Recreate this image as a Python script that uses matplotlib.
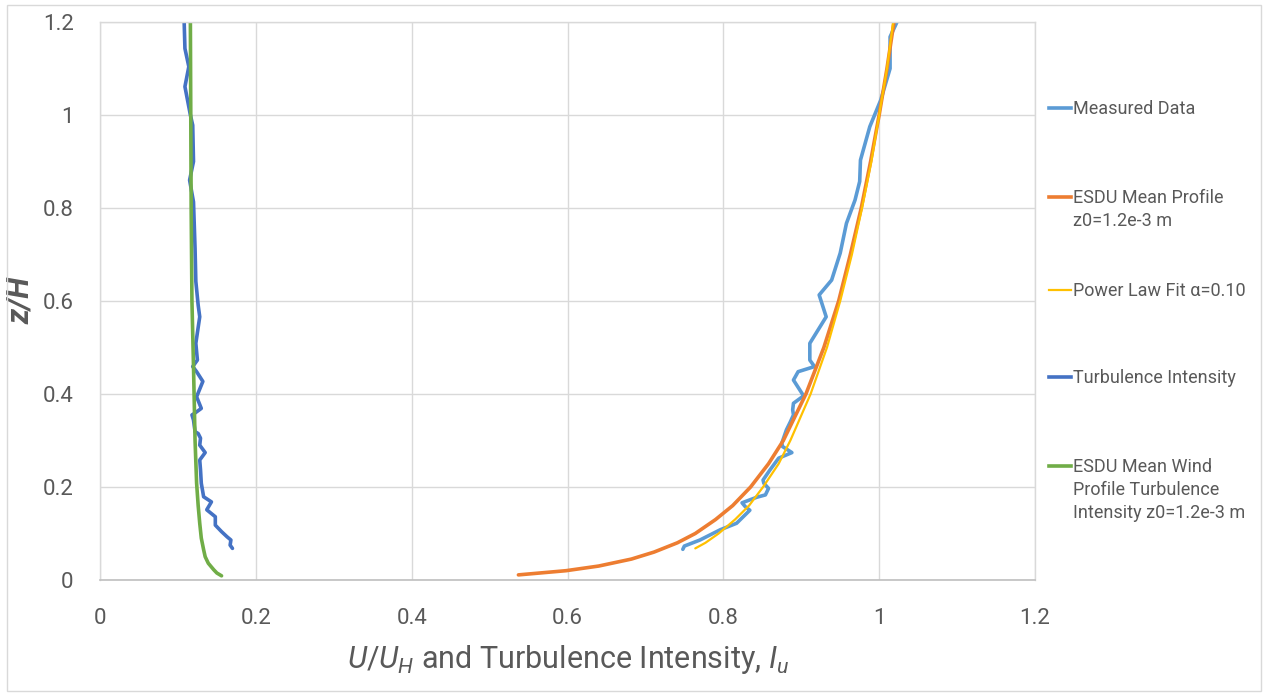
import matplotlib
matplotlib.use("Agg")
import matplotlib.pyplot as plt
from matplotlib.lines import Line2D
from matplotlib.patches import Rectangle

FONT = ["Roboto", "DejaVu Sans"]
plt.rcParams["font.family"] = FONT
plt.rcParams["mathtext.fontset"] = "custom"
plt.rcParams["mathtext.rm"] = "Roboto"
plt.rcParams["mathtext.it"] = "Roboto:italic"

TEXT = "#595959"
GRID = "#D9D9D9"

# Measured mean velocity profile (z/H, U/U_H)
measured_z = [0.066, 0.073, 0.086, 0.108, 0.122, 0.150, 0.158, 0.166, 0.178, 0.183,
              0.197, 0.208, 0.215, 0.237, 0.262, 0.274, 0.287, 0.294, 0.323, 0.340,
              0.355, 0.366, 0.380, 0.396, 0.430, 0.448, 0.459, 0.473, 0.509, 0.566,
              0.613, 0.645, 0.703, 0.767, 0.817, 0.857, 0.903, 0.975, 1.032, 1.100,
              1.168, 1.204]
measured_u = [0.748, 0.750, 0.770, 0.796, 0.817, 0.834, 0.828, 0.824, 0.843, 0.854,
              0.858, 0.852, 0.851, 0.860, 0.871, 0.888, 0.876, 0.875, 0.881, 0.886,
              0.890, 0.889, 0.890, 0.903, 0.890, 0.896, 0.917, 0.911, 0.911, 0.932,
              0.923, 0.939, 0.950, 0.958, 0.969, 0.975, 0.976, 0.988, 1.002, 1.014,
              1.014, 1.024]

# ESDU mean profile, z0 = 1.2e-3 m
esdu_z = [0.011, 0.02, 0.03, 0.045, 0.06, 0.08, 0.10, 0.13, 0.16, 0.20, 0.25,
          0.30, 0.40, 0.50, 0.60, 0.70, 0.80, 0.90, 1.00, 1.10, 1.20]
esdu_u = [0.537, 0.598, 0.640, 0.682, 0.711, 0.741, 0.764, 0.790, 0.812, 0.835,
          0.858, 0.877, 0.906, 0.929, 0.948, 0.963, 0.977, 0.989, 1.000, 1.010, 1.019]

# Power law fit, alpha = 0.10
power_z = [0.068, 0.08, 0.10, 0.13, 0.16, 0.20, 0.25, 0.30, 0.40, 0.50, 0.60,
           0.70, 0.80, 0.90, 1.00, 1.10, 1.20]
power_u = [0.764, 0.777, 0.794, 0.815, 0.833, 0.851, 0.871, 0.886, 0.912, 0.933,
           0.950, 0.965, 0.978, 0.990, 1.000, 1.010, 1.018]

# Measured turbulence intensity (z/H, I_u)
ti_z = [0.068, 0.075, 0.086, 0.093, 0.104, 0.118, 0.136, 0.151, 0.168, 0.179,
        0.208, 0.237, 0.258, 0.274, 0.290, 0.305, 0.315, 0.319, 0.344, 0.355,
        0.358, 0.369, 0.394, 0.427, 0.448, 0.459, 0.473, 0.509, 0.566, 0.591,
        0.642, 0.713, 0.813, 0.860, 0.900, 0.978, 1.000, 1.061, 1.104, 1.143, 1.201]
ti_i = [0.170, 0.167, 0.168, 0.163, 0.156, 0.148, 0.148, 0.137, 0.143, 0.133,
        0.130, 0.129, 0.128, 0.135, 0.128, 0.129, 0.126, 0.122, 0.120, 0.118,
        0.121, 0.130, 0.124, 0.132, 0.124, 0.119, 0.125, 0.123, 0.128, 0.126,
        0.123, 0.122, 0.120, 0.115, 0.120, 0.119, 0.116, 0.109, 0.114, 0.109, 0.108]

# ESDU turbulence intensity, z0 = 1.2e-3 m
esdu_ti_z = [0.009, 0.015, 0.022, 0.036, 0.05, 0.065, 0.09, 0.122, 0.16, 0.208,
             0.30, 0.459, 0.60, 0.80, 1.00, 1.20]
esdu_ti_i = [0.156, 0.150, 0.146, 0.139, 0.135, 0.133, 0.130, 0.128, 0.126, 0.124,
             0.122, 0.120, 0.118, 0.117, 0.1165, 0.116]

ticks = [0, 0.2, 0.4, 0.6, 0.8, 1.0, 1.2]
tick_labels = ["0", "0.2", "0.4", "0.6", "0.8", "1", "1.2"]

series = [
    ("Measured Data", measured_u, measured_z, "#5B9BD5", 2.6),
    ("ESDU Mean Profile\nz0=1.2e-3 m", esdu_u, esdu_z, "#ED7D31", 2.6),
    ("Power Law Fit α=0.10", power_u, power_z, "#FFC000", 1.6),
    ("Turbulence Intensity", ti_i, ti_z, "#4472C4", 2.6),
    ("ESDU Mean Wind\nProfile Turbulence\nIntensity z0=1.2e-3 m", esdu_ti_i, esdu_ti_z, "#70AD47", 2.6),
]

W, H = 1265, 694
fig = plt.figure(figsize=(W / 100, H / 100), dpi=100)
ax = fig.add_axes([100 / W, 1 - 580 / H, 935 / W, 558 / H])

for label, x, z, color, lw in series:
    ax.plot(x, z, color=color, lw=lw, solid_joinstyle="round", solid_capstyle="round")

ax.set_xlim(0, 1.2)
ax.set_ylim(0, 1.2)
ax.set_xticks(ticks)
ax.set_xticklabels(tick_labels)
ax.set_yticks(ticks)
ax.set_yticklabels(tick_labels)
ax.tick_params(length=0, labelsize=16, labelcolor=TEXT)
ax.tick_params(axis="y", pad=19)
ax.tick_params(axis="x", pad=20)
ax.grid(True, color=GRID, lw=1)
ax.set_axisbelow(True)
for side in ["left", "top", "right"]:
    ax.spines[side].set_color(GRID)
    ax.spines[side].set_linewidth(1)
ax.spines["bottom"].set_color("#BFBFBF")
ax.spines["bottom"].set_linewidth(1.2)

ax.set_xlabel(r"$U/U_H$ and Turbulence Intensity, $I_u$", fontsize=22,
              color=TEXT)
ax.xaxis.set_label_coords(0.5, -(643 - 580) / 558)
ax.set_ylabel("z/H", fontsize=22, color=TEXT, style="italic", fontweight="bold")
ax.yaxis.set_label_coords(-(100 - 35) / 935, (580 - 300) / 558)

# Legend drawn beside the plot area
legend_first_line = [108, 197, 290, 377, 466]
for (label, x, z, color, lw), ypx in zip(series, legend_first_line):
    yf = 1 - ypx / H
    fig.add_artist(Line2D([1049 / W, 1071 / W], [yf, yf], color=color, lw=lw,
                          transform=fig.transFigure))
    fig.text(1073 / W, 1 - (ypx - 8) / H, label, fontsize=13, color=TEXT,
             ha="left", va="top", linespacing=1.35)

# Chart border
fig.add_artist(Rectangle((7 / W, 3 / H), 1254 / W, 686 / H, transform=fig.transFigure,
                         fill=False, edgecolor=GRID, lw=1))

fig.savefig("out.png", dpi=100)
